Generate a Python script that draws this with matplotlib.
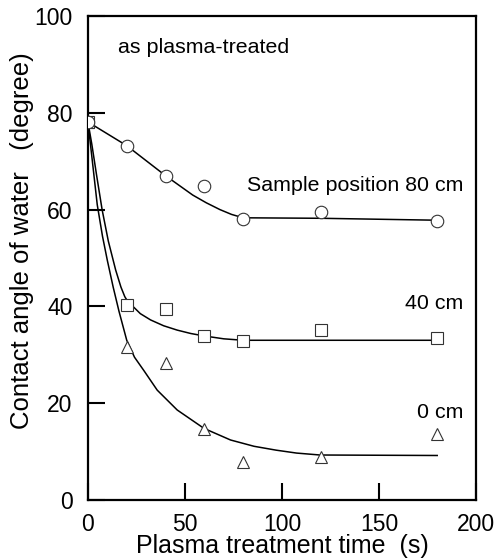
import matplotlib.pyplot as plt

plt.rcParams['font.family'] = ['Liberation Sans', 'DejaVu Sans']

# measured points
t_meas = [0, 20, 40, 60, 80, 120, 180]
angle_80cm = [78.1, 73.1, 66.9, 64.9, 58.1, 59.6, 57.6]
angle_40cm = [78.1, 40.3, 39.5, 33.9, 32.8, 35.1, 33.4]
angle_0cm = [78.1, 31.6, 28.3, 14.7, 7.8, 8.9, 13.6]

# hand-drawn guide curves
curve80_t = [0, 20, 30, 40, 47, 54, 61, 68, 74, 80, 120, 180]
curve80_v = [78.1, 73.2, 70.1, 67.0, 65.0, 63.0, 61.4, 60.0, 59.0, 58.3, 58.2, 57.8]

curve40_t = [0, 2, 4.5, 7.3, 10.5, 14.3, 17, 19, 21, 23.7, 27, 32.3, 39, 46, 53, 59.8, 70, 80, 180]
curve40_v = [78.1, 73.5, 67, 60, 53.5, 47.5, 44, 42, 40.7, 39.8, 38.5, 37.2, 36, 35.1, 34.4, 33.9, 33.3, 33.0, 33.0]

curve0_t = [0, 2, 4.8, 7.5, 10, 13, 16, 20, 24, 28.9, 35.7, 46, 59.8, 73.5, 85.6, 97, 107.5, 119.6, 180]
curve0_v = [78.1, 71, 61, 54.5, 49.5, 44, 39, 33, 29.5, 26.7, 22.7, 18.6, 14.8, 12.4, 11.1, 10.3, 9.7, 9.3, 9.2]

fig = plt.figure(figsize=(4.94, 5.59), dpi=100)
ax = fig.add_axes([0.178, 0.1055, 0.7856, 0.866])

ax.plot(curve80_t, curve80_v, color='black', lw=1.1)
ax.plot(curve40_t, curve40_v, color='black', lw=1.1)
ax.plot(curve0_t, curve0_v, color='black', lw=1.1)

mk = dict(linestyle='none', markerfacecolor='white', markeredgecolor='#333333',
          markeredgewidth=0.8, zorder=3)
ax.plot(t_meas, angle_0cm, marker='^', markersize=9, **mk)
ax.plot(t_meas, angle_40cm, marker='s', markersize=8.5, **mk)
ax.plot(t_meas, angle_80cm, marker='o', markersize=9, **mk)

ax.set_xlim(0, 200)
ax.set_ylim(0, 100)
ax.set_xticks([0, 50, 100, 150, 200])
ax.set_yticks([0, 20, 40, 60, 80, 100])
ax.tick_params(direction='in', length=12, width=1.5, labelsize=16.5, pad=9)
ax.tick_params(axis='y', pad=11)
for s in ax.spines.values():
    s.set_linewidth(1.6)

ax.set_xlabel('Plasma treatment time  (s)', fontsize=18, labelpad=-1)
ax.set_ylabel('Contact angle of water   (degree)', fontsize=18.5)
ax.yaxis.set_label_coords(-0.14, 0.535)

ax.text(15.5, 93.4, 'as plasma-treated', fontsize=15.4, va='center')
ax.text(193.3, 65, 'Sample position 80 cm', fontsize=15.4, va='center', ha='right')
ax.text(193.3, 40.6, '40 cm', fontsize=15.4, va='center', ha='right')
ax.text(193.3, 18.1, '0 cm', fontsize=15.4, va='center', ha='right')

fig.savefig('out.png', dpi=100)
